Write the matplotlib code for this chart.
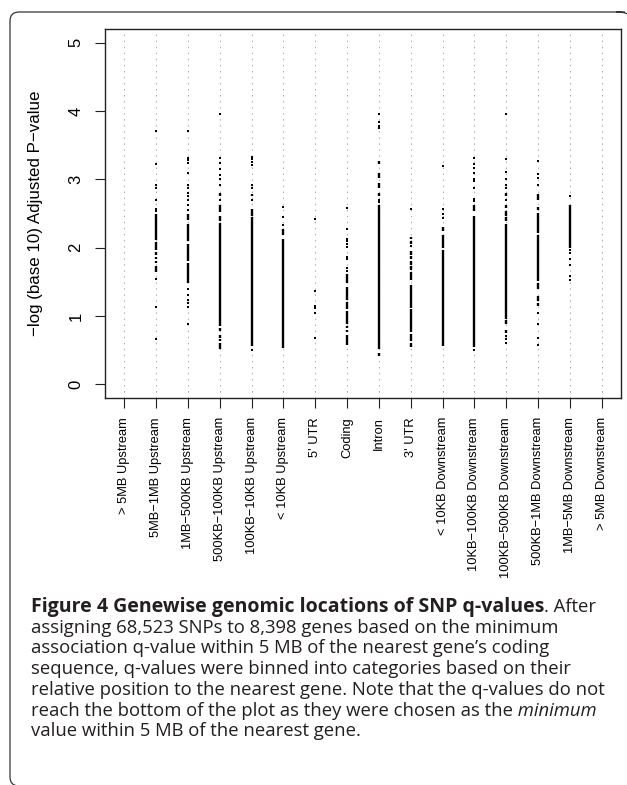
import matplotlib
matplotlib.use("Agg")
import matplotlib.pyplot as plt
from matplotlib.path import Path
from matplotlib.patches import PathPatch

# ---------------- data ----------------
categories = [
    "> 5MB Upstream", "5MB\u22121MB Upstream", "1MB\u2212500KB Upstream",
    "500KB\u2212100KB Upstream", "100KB\u221210KB Upstream", "< 10KB Upstream",
    "5' UTR", "Coding", "Intron", "3' UTR", "< 10KB Downstream",
    "10KB\u2212100KB Downstream", "100KB\u2212500KB Downstream",
    "500KB\u22121MB Downstream", "1MB\u22125MB Downstream", "> 5MB Downstream",
]

# dense stretches of overlapping SNP markers: (low, high) in -log10 q
dense_runs = [
    [],
    [(2.11, 2.50), (1.96, 2.08), (1.89, 1.94), (1.83, 1.87), (1.77, 1.80), (1.64, 1.73)],
    [(2.40, 2.49), (2.10, 2.35), (1.80, 2.05), (1.48, 1.78)],
    [(2.75, 2.80), (2.52, 2.62), (2.39, 2.46), (0.85, 2.36), (0.78, 0.83),
     (0.68, 0.72), (0.63, 0.66), (0.52, 0.61)],
    [(2.75, 2.79), (2.47, 2.57), (0.56, 2.45)],
    [(2.19, 2.28), (2.06, 2.13), (0.53, 2.05)],
    [],
    [(1.49, 1.62), (1.24, 1.43), (1.10, 1.20), (0.89, 1.07), (0.83, 0.86),
     (0.76, 0.80), (0.57, 0.72)],
    [(3.22, 3.27), (3.02, 3.10), (2.88, 2.95), (2.76, 2.80), (0.51, 2.63), (0.42, 0.46)],
    [(2.13, 2.16), (2.06, 2.10), (1.90, 1.95), (1.84, 1.88), (1.75, 1.80),
     (1.67, 1.73), (1.53, 1.64), (1.12, 1.46), (0.76, 1.10), (0.63, 0.73), (0.55, 0.60)],
    [(2.24, 2.30), (2.00, 2.19), (0.56, 1.97)],
    [(2.53, 2.62), (0.55, 2.47)],
    [(2.75, 2.80), (2.58, 2.62), (2.47, 2.54), (2.39, 2.45), (0.95, 2.35),
     (0.88, 0.94), (0.75, 0.80)],
    [(2.70, 2.78), (2.55, 2.60), (2.22, 2.51), (1.51, 2.19), (1.39, 1.49),
     (1.22, 1.30), (1.15, 1.19)],
    [(2.00, 2.63)],
    [],
]

# isolated SNP markers
isolated_points = [
    [],
    [3.71, 3.23, 2.92, 2.88, 2.70, 2.57, 2.53, 1.545, 1.13, 0.66],
    [3.71, 3.31, 3.28, 3.24, 3.10, 2.92, 2.88, 2.80, 2.75, 2.70, 2.62, 2.55,
     1.40, 1.31, 1.24, 1.19, 1.13, 0.89],
    [3.96, 3.31, 3.24, 3.15, 3.07, 3.00, 2.92, 2.70],
    [3.33, 3.30, 3.26, 3.21, 2.92, 2.88, 2.70, 0.50],
    [2.60, 2.45, 2.33],
    [2.42, 1.36, 1.14, 1.12, 1.05, 0.68],
    [2.58, 2.28, 2.13, 2.10, 2.06, 2.01, 1.87, 1.84, 1.70, 1.66],
    [3.96, 3.84, 3.78, 3.75, 2.70, 2.67],
    [2.56, 2.03],
    [3.19, 2.56, 2.50, 2.44],
    [3.31, 3.22, 3.17, 3.10, 3.01, 2.97, 2.88, 2.71, 2.68, 0.50],
    [3.96, 3.30, 3.11, 3.00, 2.92, 2.87, 2.70, 0.71, 0.66, 0.61],
    [3.27, 3.08, 3.02, 2.91, 1.04, 0.88, 0.68, 0.58],
    [2.76, 1.96, 1.92, 1.83, 1.75, 1.59, 1.52],
    [],
]

y_ticks = [0, 1, 2, 3, 4, 5]
y_label = "\u2212log (base 10) Adjusted P\u2212value"

caption_lines = [
    [("Figure 4 Genewise genomic locations of SNP q-values", "bold"), (". After", "normal")],
    [("assigning 68,523 SNPs to 8,398 genes based on the minimum", "normal")],
    [("association q-value within 5 MB of the nearest gene\u2019s coding", "normal")],
    [("sequence, q-values were binned into categories based on their", "normal")],
    [("relative position to the nearest gene. Note that the q-values do not", "normal")],
    [("reach the bottom of the plot as they were chosen as the", "normal"), (" minimum", "italic")],
    [("value within 5 MB of the nearest gene.", "normal")],
]

# ---------------- figure ----------------
W, H = 627, 785
fig = plt.figure(figsize=(W / 100, H / 100), dpi=100)
fig.patch.set_facecolor("white")

plot_font = "Liberation Sans"

# background overlay in pixel coordinates (border + caption)
bg = fig.add_axes([0, 0, 1, 1], zorder=-1)
bg.set_xlim(0, W)
bg.set_ylim(H, 0)
bg.axis("off")
bg.patch.set_alpha(0)

# frame: top and left edges with rounded corners (right/bottom lie off the page)
bl, bt, br, bb, r = 10, 12, 625, 786, 9
verts = [(br, bt), (bl + r, bt), (bl, bt), (bl, bt + r), (bl, bb - r), (bl, bb), (bl + r, bb),
         (br - r, bt), (br, bt), (br + 2, bt + 2)]
codes = [Path.MOVETO, Path.LINETO, Path.CURVE3, Path.CURVE3, Path.LINETO, Path.CURVE3, Path.CURVE3,
         Path.MOVETO, Path.CURVE3, Path.CURVE3]
frame = PathPatch(Path(verts, codes), facecolor="none", edgecolor="#333333",
                  linewidth=0.9, clip_on=False)
bg.add_patch(frame)

# main axes
ax_left, ax_right, ax_top, ax_bottom = 105, 621, 29, 398
ax = fig.add_axes([ax_left / W, 1 - ax_bottom / H, (ax_right - ax_left) / W,
                   (ax_bottom - ax_top) / H])
positions = list(range(1, len(categories) + 1))
ax.set_xlim(0.4, len(categories) + 0.6)
ax.set_ylim(-0.2, 5.2)

for x in positions:
    ax.axvline(x, color="#aaaaaa", lw=0.75, ls=(0, (1.3, 4.5)), zorder=1)

for x, runs in zip(positions, dense_runs):
    if runs:
        ax.vlines([x] * len(runs), [r_[0] for r_ in runs], [r_[1] for r_ in runs],
                  colors="black", lw=1.7, zorder=3)
for x, pts in zip(positions, isolated_points):
    if pts:
        ax.plot([x] * len(pts), pts, ls="none", marker="s", ms=1.8, mew=0,
                color="black", zorder=3)

for s in ax.spines.values():
    s.set_color("#222222")
    s.set_linewidth(1.0)

ax.set_xticks(positions)
ax.set_xticklabels(categories, rotation=90, fontsize=9.3, family=plot_font)
ax.set_yticks(y_ticks)
ax.set_yticklabels([str(t) for t in y_ticks], rotation=90, fontsize=12.0,
                   family=plot_font, va="center", ha="center")
ax.tick_params(axis="x", length=7.2, width=0.8, direction="out", pad=6.5, color="#222222")
ax.tick_params(axis="y", length=7.2, width=0.8, direction="out", pad=13.7, color="#222222")
ax.set_ylabel(y_label, fontsize=12.2, family=plot_font)
ax.yaxis.set_label_coords((35 - ax_left) / (ax_right - ax_left), 0.5)
ax.yaxis.label.set_verticalalignment("center")

# ---------------- caption ----------------
cap_color = "#231f20"
cap_font = "Open Sans"
renderer = fig.canvas.get_renderer()


def measure(txt, fs, **kw):
    t = bg.text(0, 0, txt, fontsize=fs, family=cap_font, **kw)
    w = t.get_window_extent(renderer).width
    t.remove()
    return w


cap_fs = 10 * 529 / measure(caption_lines[1][0][0], 10)
bold_fs = 10 * 527 / measure(caption_lines[0][0][0], 10, fontweight="bold")
bold_fs = min(bold_fs, cap_fs * 1.05)

x0 = 31
base0 = 612
step = 20.7
for k, pieces in enumerate(caption_lines):
    x = x0
    y = base0 + step * k
    for txt, style in pieces:
        kw = {}
        fs = cap_fs
        if style == "bold":
            kw["fontweight"] = "bold"
            fs = bold_fs
        elif style == "italic":
            kw["fontstyle"] = "italic"
        t = bg.text(x, y, txt, va="baseline", ha="left", fontsize=fs,
                    family=cap_font, color=cap_color, **kw)
        x += t.get_window_extent(renderer).width

fig.savefig("out.png", dpi=100)
